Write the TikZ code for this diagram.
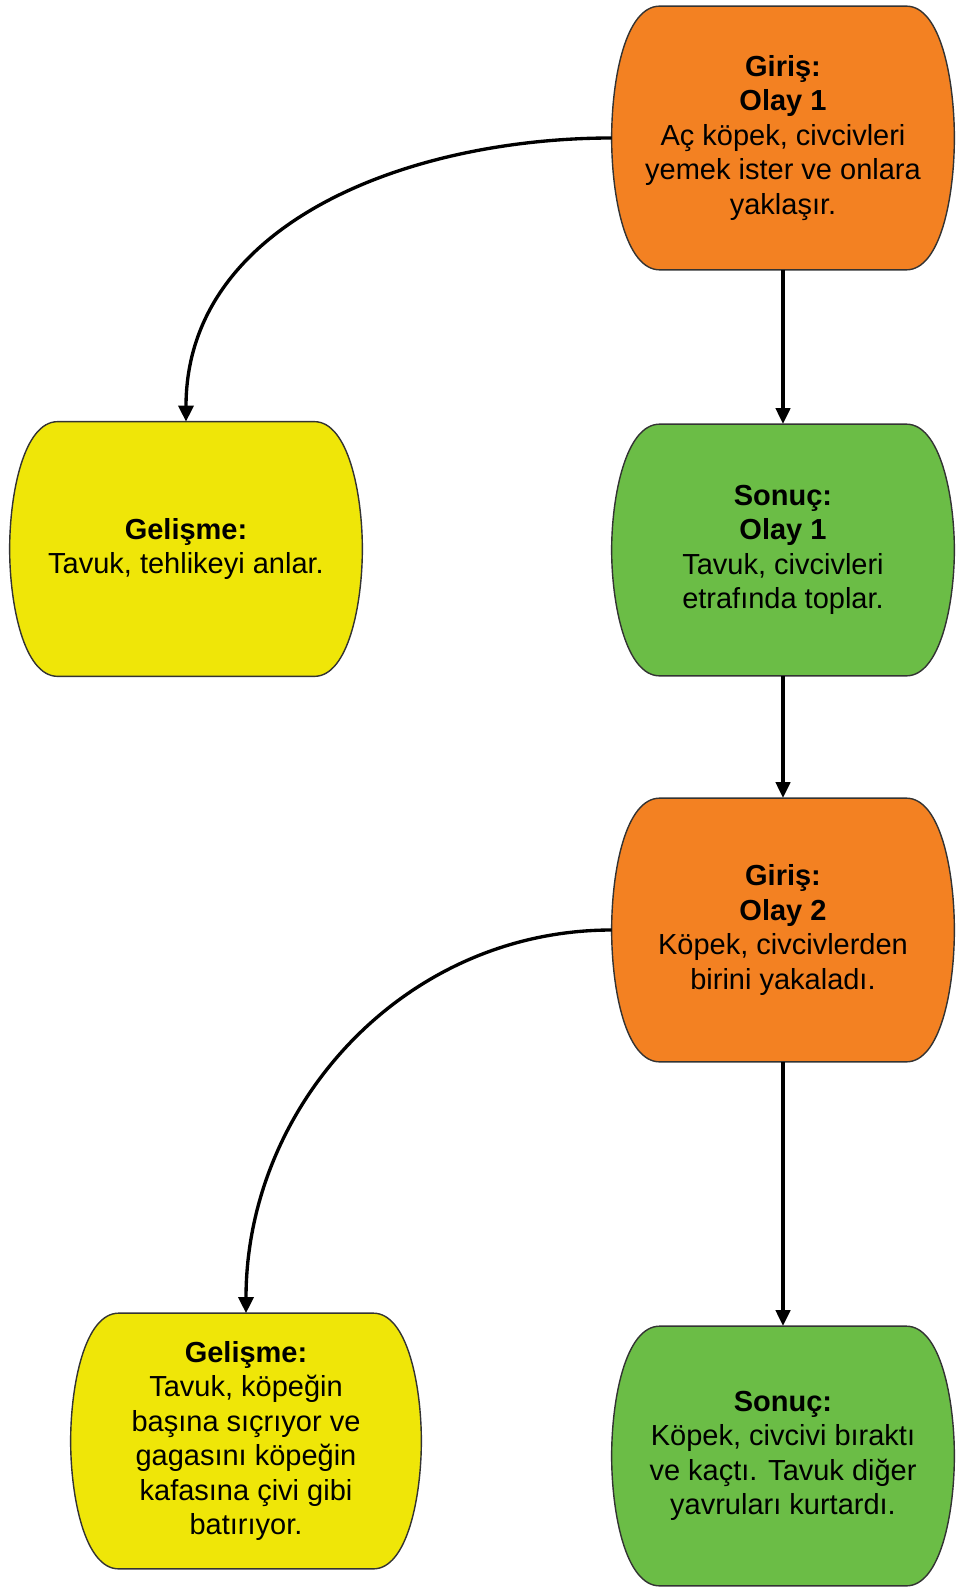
\documentclass[tikz,border=0pt]{standalone}
\usepackage{fontspec}
\setmainfont{Liberation Sans}
\usetikzlibrary{arrows.meta,calc,backgrounds}
\definecolor{giris}{RGB}{243,129,34}
\definecolor{gelisme}{RGB}{239,230,8}
\definecolor{sonuc}{RGB}{107,189,70}

\begin{document}
\begin{tikzpicture}
		\tikzset{vertex/.style = {minimum width=6.84cm, minimum height=5.2cm, inner sep=0pt,
				align=center, font=\fontsize{16.5}{19.6}\selectfont}}
		\tikzset{outline/.style = {draw=black!80, line width=0.8pt}}
		\tikzset{edge/.style = {-{Triangle[length=0.32cm,width=0.28cm]}, line width=2.6pt}}
		\tikzset{bendedge/.style = {-{Triangle[length=0.32cm,width=0.3cm]}, line width=1.9pt}}
		
		\useasboundingbox (0,0) rectangle (19.12,-31.76);
		
		\node[vertex, minimum height=5.26cm]                     (1) at (15.66, -2.76) {\textbf{Giriş:}\\ \textbf{Olay 1}\\ Aç köpek, civcivleri\\ yemek ister ve onlara\\ yaklaşır.};
		\node[vertex, minimum width=7.04cm, minimum height=5.08cm] (2) at ( 3.72,-10.98) {\textbf{Gelişme:}\\ Tavuk, tehlikeyi anlar.};
		\node[vertex, minimum height=5.02cm]                     (3) at (15.66,-11.00) {\textbf{Sonuç:}\\ \textbf{Olay 1}\\ Tavuk, civcivleri\\ etrafında toplar.};
		\node[vertex, minimum height=5.26cm]                     (4) at (15.66,-18.60) {\textbf{Giriş:}\\ \textbf{Olay 2}\\ Köpek, civcivlerden\\ birini yakaladı.};
		\node[vertex, minimum width=7.0cm, minimum height=5.1cm]   (5) at ( 4.92,-28.82) {\textbf{Gelişme:}\\ Tavuk, köpeğin\\ başına sıçrıyor ve\\ gagasını köpeğin\\ kafasına çivi gibi\\ batırıyor.};
		\node[vertex, minimum height=5.18cm]                     (6) at (15.66,-29.12) {\textbf{Sonuç:}\\ Köpek, civcivi bıraktı\\ ve kaçtı. Tavuk diğer\\ yavruları kurtardı.};
		
		% barrel outlines behind the texts
		\begin{scope}[on background layer]
		\foreach \n/\c in {1/giris, 2/gelisme, 3/sonuc, 4/giris, 5/gelisme, 6/sonuc}
		\draw[outline, fill=\c] ($(\n.north west)+(0.96,0)$) -- ($(\n.north east)+(-0.96,0)$)
			.. controls ($(\n.north east)+(-0.28,0)$) and ($(\n.north east)+(0,-1.45)$) .. (\n.east)
			.. controls ($(\n.south east)+(0,1.45)$) and ($(\n.south east)+(-0.28,0)$) .. ($(\n.south east)+(-0.96,0)$)
			-- ($(\n.south west)+(0.96,0)$)
			.. controls ($(\n.south west)+(0.28,0)$) and ($(\n.south west)+(0,1.45)$) .. (\n.west)
			.. controls ($(\n.north west)+(0,-1.45)$) and ($(\n.north west)+(0.28,0)$) .. cycle;
		\end{scope}
		
		\draw[bendedge] (1.west) to[out=180, in=90] (2.north);
		\draw[edge]     (1) to  (3);
		\draw[edge]     (3) to  (4);
		\draw[bendedge] (4.west) to[out=180, in=90] (5.north);
		\draw[edge]     (4) to  (6);
\end{tikzpicture}
\end{document}
